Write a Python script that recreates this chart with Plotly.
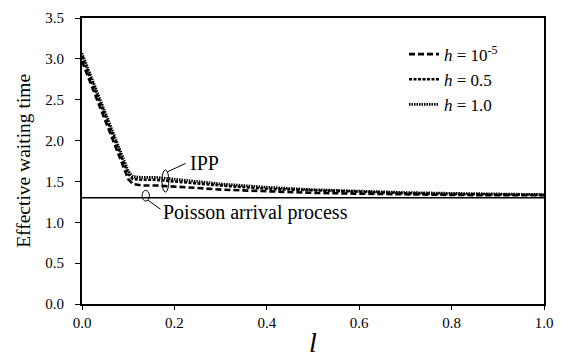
import plotly.graph_objects as go

l_vals = [0.0, 0.05, 0.10, 0.11, 0.13, 0.16, 0.20, 0.25, 0.30, 0.40, 0.50, 0.60, 0.70, 0.80, 0.90, 1.00]
h_1e5 = [2.97, 2.26, 1.53, 1.47, 1.45, 1.45, 1.44, 1.42, 1.40, 1.38, 1.36, 1.35, 1.34, 1.335, 1.33, 1.33]
h_05 = [3.03, 2.32, 1.59, 1.53, 1.52, 1.52, 1.50, 1.47, 1.45, 1.41, 1.39, 1.37, 1.355, 1.345, 1.34, 1.335]
h_10 = [3.07, 2.36, 1.63, 1.56, 1.55, 1.55, 1.53, 1.50, 1.47, 1.43, 1.40, 1.38, 1.365, 1.355, 1.345, 1.34]
poisson_level = 1.30

names = ["<i>h</i> = 10<sup>-5</sup>", "<i>h</i> = 0.5", "<i>h</i> = 1.0"]
series = [h_1e5, h_05, h_10]
dashes = ["6px,3px", "3px,1.5px", "1.5px,1px"]

FONT = "Liberation Serif, Times New Roman, serif"

fig = go.Figure()
for nm, ys, ds in zip(names, series, dashes):
    fig.add_trace(go.Scatter(x=l_vals, y=ys, mode="lines", name=nm,
                             line=dict(color="black", width=2.6, dash=ds)))

fig.add_trace(go.Scatter(x=[0, 1], y=[poisson_level, poisson_level], mode="lines",
                         showlegend=False, line=dict(color="black", width=1.3)))

# annotation ellipses and leader lines
fig.add_shape(type="circle", xref="x", yref="y", x0=0.173, x1=0.188, y0=1.37, y1=1.64,
              line=dict(color="black", width=1))
fig.add_shape(type="line", xref="x", yref="y", x0=0.186, y0=1.62, x1=0.224, y1=1.72,
              line=dict(color="black", width=1))
fig.add_shape(type="circle", xref="x", yref="y", x0=0.130, x1=0.146, y0=1.26, y1=1.39,
              line=dict(color="black", width=1))
fig.add_shape(type="line", xref="x", yref="y", x0=0.143, y0=1.27, x1=0.170, y1=1.16,
              line=dict(color="black", width=1))
fig.add_annotation(x=0.23, y=1.72, xref="x", yref="y", text="IPP", showarrow=False,
                   xanchor="left", yanchor="middle", font=dict(family=FONT, size=20, color="black"))
fig.add_annotation(x=0.17, y=1.115, xref="x", yref="y", text="Poisson arrival process",
                   showarrow=False, xanchor="left", yanchor="middle",
                   font=dict(family=FONT, size=20, color="black"))

# y-axis title
fig.add_annotation(x=-0.128, y=0.50, xref="paper", yref="paper", text="Effective waiting time",
                   showarrow=False, textangle=-90, xanchor="center", yanchor="middle",
                   font=dict(family=FONT, size=19.5, color="black"))

fig.update_layout(
    width=563, height=363,
    margin=dict(l=82, r=17, t=10, b=51),
    paper_bgcolor="white", plot_bgcolor="white",
    font=dict(family=FONT, color="black"),
    legend=dict(x=0.697, y=0.935, xanchor="left", yanchor="top",
                font=dict(family=FONT, size=17, color="black"),
                itemwidth=30, tracegroupgap=0, bgcolor="rgba(0,0,0,0)"),
    xaxis=dict(range=[0, 1], tickvals=[0, 0.2, 0.4, 0.6, 0.8, 1.0],
               ticktext=["0.0", "0.2", "0.4", "0.6", "0.8", "1.0"],
               ticks="outside", ticklen=4, tickcolor="black", tickwidth=1,
               showline=True, linecolor="black", linewidth=2, mirror=True,
               showgrid=False, zeroline=False,
               tickfont=dict(family=FONT, size=15),
               title=dict(text="<i>l</i>", font=dict(family=FONT, size=28), standoff=2)),
    yaxis=dict(range=[0, 3.5], tickvals=[0, 0.5, 1.0, 1.5, 2.0, 2.5, 3.0, 3.5],
               ticktext=["0.0", "0.5", "1.0", "1.5", "2.0", "2.5", "3.0", "3.5"],
               ticks="outside", ticklen=5, tickcolor="black", tickwidth=1,
               ticklabelstandoff=8,
               showline=True, linecolor="black", linewidth=2, mirror=True,
               showgrid=False, zeroline=False,
               tickfont=dict(family=FONT, size=15)),
)

fig.write_html("out.html")
